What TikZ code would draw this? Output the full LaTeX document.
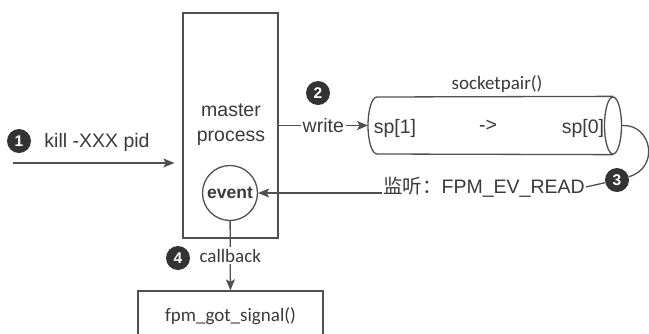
\documentclass[tikz,border=0pt]{standalone}
\usepackage{fontspec}
\setmainfont{Liberation Sans}
\newfontfamily\calfont{Carlito}
\newfontfamily\cjkfont{Noto Sans CJK SC}
\usetikzlibrary{arrows.meta,shapes.geometric}
\definecolor{ink}{HTML}{3A3A3A}
\definecolor{wire}{HTML}{505050}
\definecolor{badgefill}{HTML}{333333}
\begin{document}
\begin{tikzpicture}[x=1pt,y=-1pt,
  every node/.style={text=ink},
  wireline/.style={draw=wire, line width=1.3pt},
  arrowline/.style={wireline, -{Stealth[length=11pt,width=9pt,inset=2.5pt]}},
  txt/.style={font=\fontsize{19.5}{25}\selectfont, inner sep=1pt},
  caltxt/.style={font=\calfont\fontsize{19}{22}\selectfont, inner sep=1pt},
  onwire/.style={fill=white, inner sep=2pt},
  badge/.style={circle, fill=badgefill, minimum size=24pt, inner sep=0pt,
    text=white, font=\bfseries\fontsize{15.5}{15.5}\selectfont},
  boxshape/.style={draw=wire, line width=1.3pt, rectangle, inner sep=0pt}
]
\clip (0,0) rectangle (649,333);
\fill[white] (0,0) rectangle (649,333);

% master process box with its event loop
\node[boxshape, minimum width=95pt, minimum height=225pt] (master) at (230.5,125.5) {};
\node[txt, align=center] (mtext) at (231,125) {master\\process};
\node[circle, draw=wire, line width=1.3pt, minimum size=55pt, inner sep=0pt,
  font=\bfseries\fontsize{17.5}{20}\selectfont] (ev) at (230,193) {event};

% signal sent from outside
\coordinate (killstart) at (13,163);
\draw[arrowline, shorten >=8pt] (killstart) -- (killstart -| master.west);
\node[txt] (kill) at (97,142) {kill -XXX pid};
\node[badge] (b1) at (19,141) {1};

% socket pair drawn as a horizontal cylinder
\coordinate (cylTL) at (377,97);
\coordinate (cylBL) at (377,154);
\coordinate (cylL) at (368,125.5);
\node[ellipse, draw=wire, line width=1.3pt, minimum width=17pt, minimum height=57pt,
  inner sep=0pt] (cylR) at (613,125.5) {};
\draw[wireline] (cylTL) -- (cylR.north);
\draw[wireline] (cylBL) -- (cylR.south);
\draw[wireline] (cylTL) arc[start angle=-90, end angle=-270, x radius=9, y radius=28.5];
\node[caltxt] (sptitle) at (497,84) {socketpair()};
\node[txt] (sp1) at (395,128) {sp[1]};
\node[txt] (dir) at (488,126) {->};
\node[txt] (sp0) at (583,128) {sp[0]};

% step 2: write into sp[1]
\draw[arrowline] (master.east |- cylL) -- node[txt, onwire] (wr) {write} (cylL);
\node[badge] (b2) at (318,93) {2};

% step 3: event loop listens on sp[0]
\node[badge] (b3) at (617,180) {3};
\draw[wireline] (cylR.east) .. controls (652,124) and (660,168) .. (b3);
\node[txt] (lis) at (484,187) {{\cjkfont 监听：}FPM\_EV\_READ};
\draw[wireline] (b3) -- (lis.east);
\draw[arrowline] (lis.west |- ev) -- (ev);

% step 4: callback into the signal handler
\node[boxshape, minimum width=185pt, minimum height=50pt, caltxt] (fpm) at (230.5,316) {fpm\_got\_signal()};
\draw[arrowline] (ev) -- node[caltxt, onwire] (cb) {callback} (fpm);
\node[badge] (b4) at (178,258) {4};
\end{tikzpicture}
\end{document}
